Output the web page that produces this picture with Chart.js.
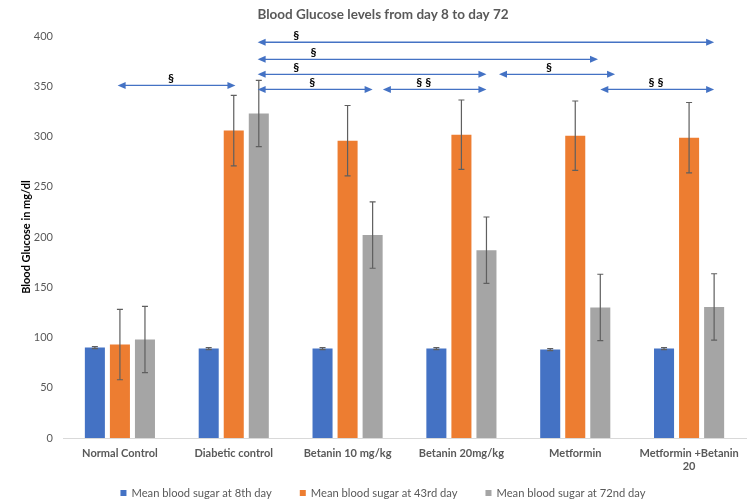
<!DOCTYPE html>
<html>
<head>
<meta charset="utf-8">
<script src="https://cdn.jsdelivr.net/npm/chart.js@4.4.1/dist/chart.umd.min.js"></script>
<style>
  html, body { margin: 0; padding: 0; background: #fff; }
  #wrap { width: 750px; height: 504px; position: relative; }
</style>
</head>
<body>
<div id="wrap"><canvas id="c" width="750" height="504"></canvas></div>
<script>
// ---- data ----
const categories = ["Normal Control", "Diabetic control", "Betanin 10 mg/kg", "Betanin 20mg/kg", "Metformin", ["Metformin +Betanin", "20"]];
const seriesNames = ["Mean blood sugar at 8th day", "Mean blood sugar at 43rd day", "Mean blood sugar at 72nd day"];
const day8 = [90, 89, 89, 89, 88, 89];
const day8Err = [1, 1, 1, 1, 1, 1];
const day43 = [93, 306, 296, 302, 301, 299];
const day43Err = [35, 35, 35, 34.5, 34.5, 35];
const day72 = [98, 323, 202, 187, 130, 130.5];
const day72Err = [33, 33, 33, 33, 33, 33];
const yTicks = [0, 50, 100, 150, 200, 250, 300, 350, 400];
// significance brackets: from/to are category positions (index units), y in mg/dl
const sigFrom = [-0.02, 1.21, 1.21, 1.21, 3.33, 1.21, 2.31, 4.22];
const sigTo   = [1.015, 5.22, 4.2, 3.22, 4.35, 2.22, 3.22, 5.22];
const sigY    = [351, 394, 377, 362, 362, 347, 347, 347];
const sigLabX = [0.45, 1.55, 1.70, 1.55, 3.77, 1.69, 2.67, 4.71];
const sigLab  = ["§", "§", "§", "§", "§", "§", "§ §", "§ §"];

const FONT = "Lato, 'Open Sans', sans-serif";
const colors = ["#4472C4", "#ED7D31", "#A5A5A5"];
const errs = [day8Err, day43Err, day72Err];

const errorBarPlugin = {
  id: 'errbars',
  afterDatasetsDraw(chart) {
    const ctx = chart.ctx, y = chart.scales.y;
    ctx.save();
    ctx.strokeStyle = "#5f5f5f";
    ctx.lineWidth = 1.2;
    chart.data.datasets.forEach((ds, di) => {
      const meta = chart.getDatasetMeta(di);
      meta.data.forEach((bar, i) => {
        const v = ds.data[i], e = errs[di][i];
        const yt = y.getPixelForValue(v + e), yb = y.getPixelForValue(v - e);
        const x = bar.x;
        ctx.beginPath();
        ctx.moveTo(x, yt); ctx.lineTo(x, yb);
        ctx.moveTo(x - 3, yt); ctx.lineTo(x + 3, yt);
        ctx.moveTo(x - 3, yb); ctx.lineTo(x + 3, yb);
        ctx.stroke();
      });
    });
    ctx.restore();
  }
};

const sigPlugin = {
  id: 'sig',
  afterDatasetsDraw(chart) {
    const ctx = chart.ctx, xs = chart.scales.x, ys = chart.scales.y;
    ctx.save();
    const head = (x, y, dir) => {
      ctx.beginPath();
      ctx.moveTo(x, y);
      ctx.lineTo(x - dir * 8, y - 3.5);
      ctx.lineTo(x - dir * 8, y + 3.5);
      ctx.closePath();
      ctx.fill();
    };
    for (let k = 0; k < sigFrom.length; k++) {
      const x1 = xs.getPixelForValue(sigFrom[k]);
      const x2 = xs.getPixelForValue(sigTo[k]);
      const yy = ys.getPixelForValue(sigY[k]);
      ctx.strokeStyle = "#4472C4";
      ctx.fillStyle = "#4472C4";
      ctx.lineWidth = 1.3;
      ctx.beginPath();
      ctx.moveTo(x1 + 5, yy); ctx.lineTo(x2 - 5, yy);
      ctx.stroke();
      head(x1, yy, -1);
      head(x2, yy, 1);
      ctx.fillStyle = "#000";
      ctx.font = "bold 12px " + FONT;
      ctx.textAlign = "center";
      ctx.textBaseline = "middle";
      ctx.fillText(sigLab[k], xs.getPixelForValue(sigLabX[k]), yy - 7);
    }
    ctx.restore();
  }
};

const legendPlugin = {
  id: 'customLegend',
  afterDraw(chart) {
    const ctx = chart.ctx;
    ctx.save();
    ctx.font = "11.2px " + FONT;
    const box = 6, gapText = 5, gapItem = 28;
    const widths = seriesNames.map(n => ctx.measureText(n).width);
    const total = widths.reduce((a, w) => a + box + gapText + w, 0) + gapItem * (seriesNames.length - 1);
    let x = 383 - total / 2;
    const yc = 493;
    seriesNames.forEach((n, i) => {
      ctx.fillStyle = colors[i];
      ctx.fillRect(x, yc - box / 2, box, box);
      ctx.fillStyle = "#595959";
      ctx.textAlign = "left";
      ctx.textBaseline = "middle";
      ctx.fillText(n, x + box + gapText, yc);
      x += box + gapText + widths[i] + gapItem;
    });
    ctx.restore();
  }
};

new Chart(document.getElementById('c'), {
  type: 'bar',
  data: {
    labels: categories,
    datasets: seriesNames.map((n, i) => ({
      label: n,
      data: [day8, day43, day72][i],
      backgroundColor: colors[i],
      borderWidth: 0,
      categoryPercentage: 0.66,
      barPercentage: 0.8
    }))
  },
  options: {
    responsive: false,
    animation: false,
    devicePixelRatio: 1,
    layout: { padding: { left: 20, right: 4, top: 0, bottom: 24 } },
    plugins: {
      title: {
        display: true,
        text: "Blood Glucose levels from day 8 to day 72",
        color: "#595959",
        font: { family: FONT, size: 13.5, weight: 'bold' },
        padding: { top: 7, bottom: 13 }
      },
      legend: { display: false },
      tooltip: { enabled: false }
    },
    scales: {
      x: {
        afterFit: (s) => { s.height = 42; },
        grid: { display: false, drawTicks: false },
        border: { display: true, color: "#d9d9d9", width: 1 },
        ticks: {
          color: "#595959",
          font: { family: FONT, size: 11, weight: 'bold' },
          maxRotation: 0, autoSkip: false, padding: 9
        }
      },
      y: {
        min: 0, max: 400,
        afterBuildTicks: (s) => { s.ticks = yTicks.map(v => ({ value: v })); },
        afterFit: (s) => { s.width = 43; },
        grid: { display: false, drawTicks: false },
        border: { display: false },
        ticks: {
          color: "#595959",
          font: { family: FONT, size: 11 },
          padding: 10
        },
        title: {
          display: true,
          text: "Blood Glucose in mg/dl",
          color: "#000",
          font: { family: FONT, size: 11, weight: 'bold' },
          padding: { top: 0, bottom: 0 }
        }
      }
    }
  },
  plugins: [errorBarPlugin, sigPlugin, legendPlugin]
});
</script>
</body>
</html>
